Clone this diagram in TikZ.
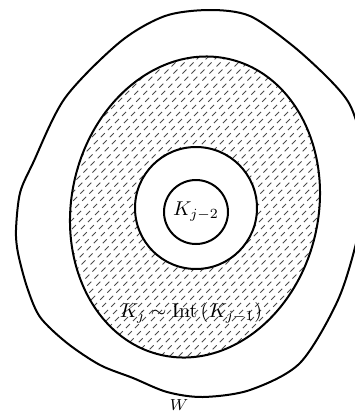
\documentclass[tikz,border=0pt]{standalone}
\usepackage{amsmath, amssymb}
\usepackage{tikz}
\usetikzlibrary{positioning}

\begin{document}
\begin{tikzpicture}[
    x=0.5pt, y=-0.5pt,
    curve/.style={draw, line width=1pt},
    hatch/.style={line width=0.45pt, gray!60!black, dash pattern=on 2.8pt off 2.2pt},
    disc/.style={circle, curve, fill=white, inner sep=0pt},
    lbl/.style={font=\normalsize}
]
\useasboundingbox (0,0) rectangle (355,414);
\clip (0,0) rectangle (355,414);

% --- outer set W ---
\draw[curve] plot[smooth cycle] coordinates {
    (210,10) (250,16) (293,46) (330,80) (350,105) (361,140) (364,185)
    (358,235) (338,300) (300,363) (250,390) (203,397) (167,392) (133,378)
    (100,365) (67,343) (40,317) (27,287) (18,253) (16,230) (20,193)
    (33,163) (65,98) (120,42) (165,16)};
\node[font=\footnotesize, inner sep=1pt] (wlbl) at (179,405) {$W$};

% --- shaded ring K_j minus Int K_{j-1} ---
\begin{scope}
    \clip (195,207) ellipse [x radius=123.4, y radius=151.8, rotate=-13];
    \foreach \c in {40,49,...,640}
        \draw[hatch] (\c-420,420) -- (\c,0);
\end{scope}
\draw[curve] (195,207) ellipse [x radius=123.4, y radius=151.8, rotate=-13];

% --- K_{j-1} and K_{j-2} ---
\node[disc, minimum size=61pt] (kmid) at (196,208) {};
\node[disc, minimum size=32pt] (kin) at (196,212) {$K_{j-2}$};

\node[lbl] (ringlbl) at (191,313) {$K_j\sim\mathrm{Int}\,(K_{j-1})$};
\end{tikzpicture}
\end{document}
